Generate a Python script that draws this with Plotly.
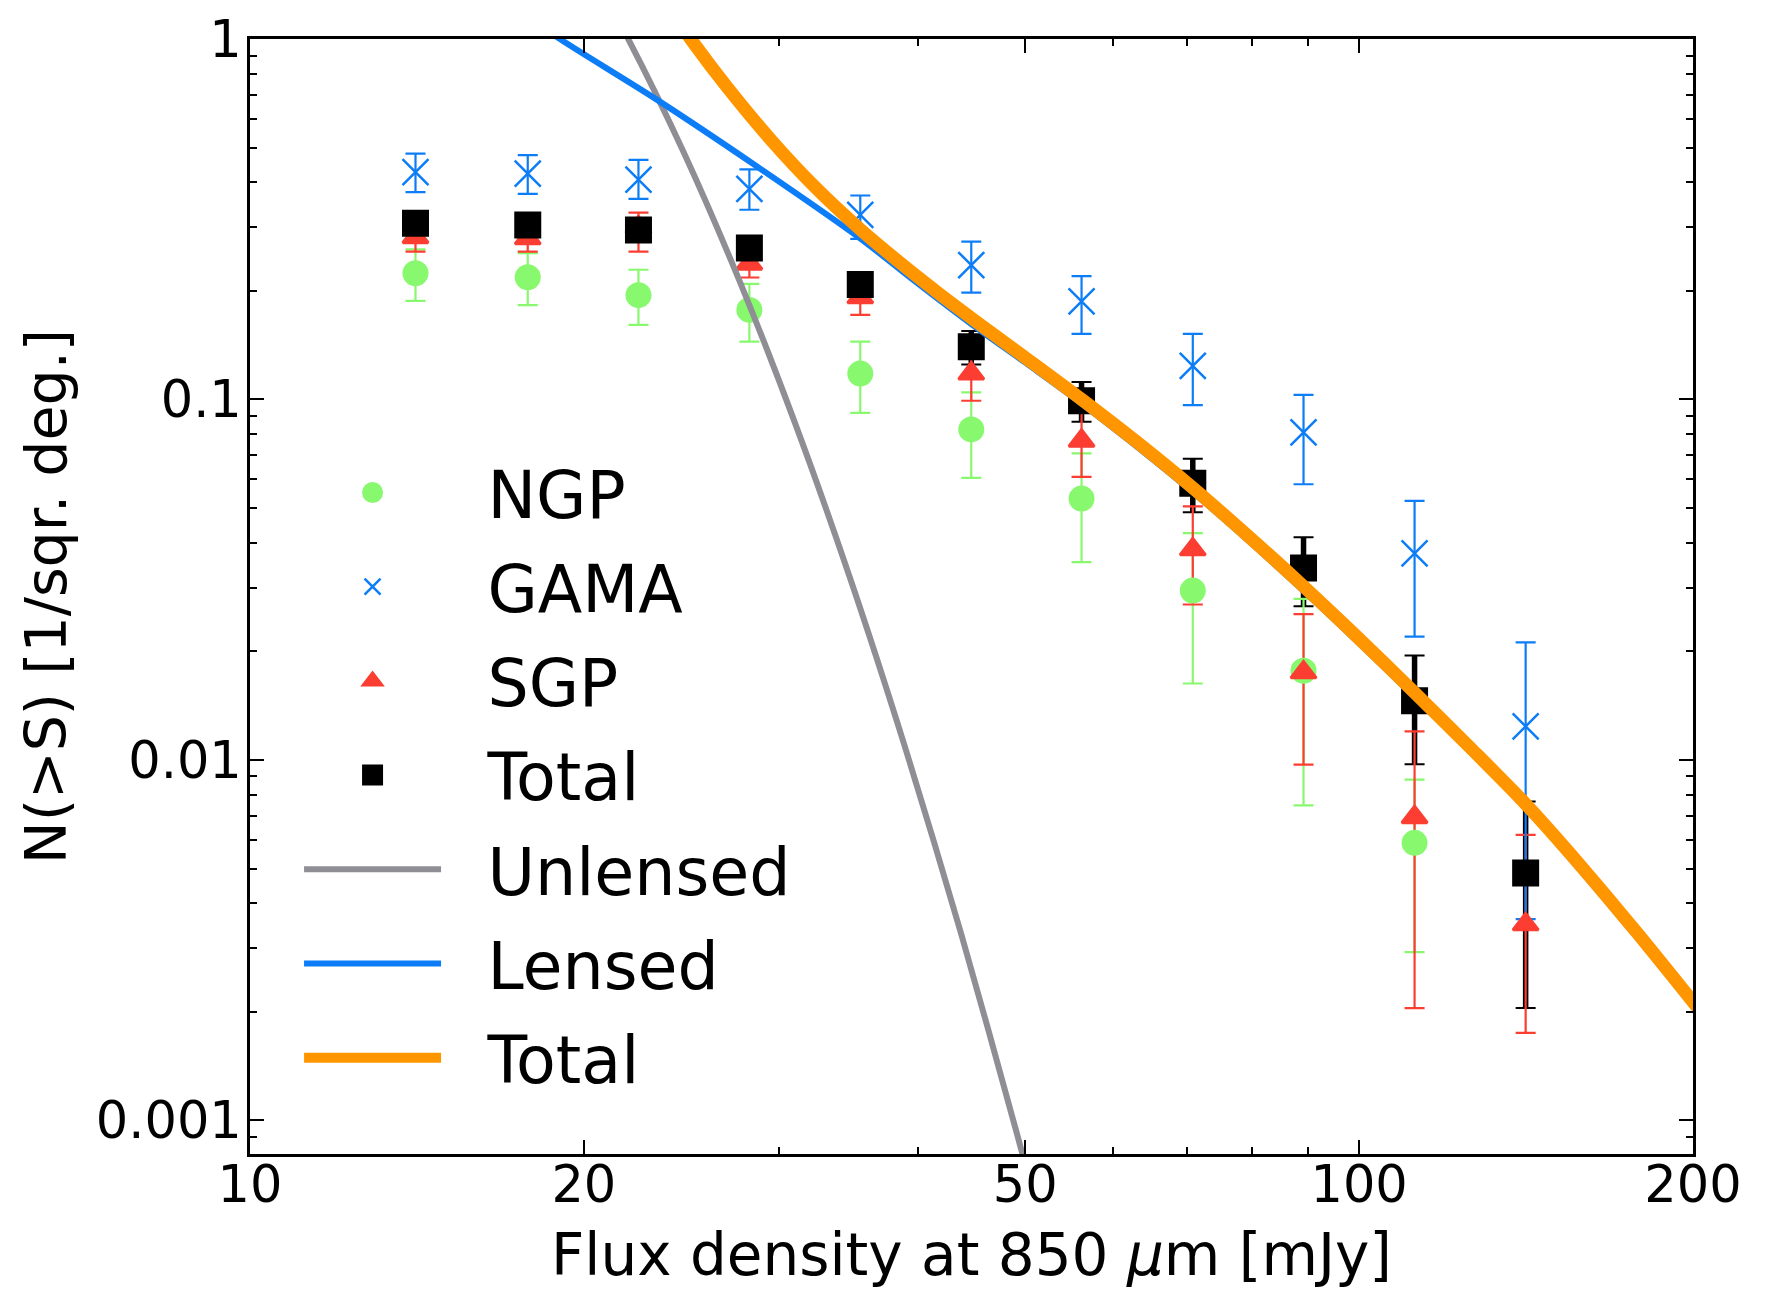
import plotly.graph_objects as go

# ---------------- data ----------------
flux = [14.1, 17.8, 22.4, 28.2, 35.5, 44.7, 56.2, 70.8, 89.1, 112.2, 141.3]

ngp_flux = [14.1, 17.8, 22.4, 28.2, 35.5, 44.7, 56.2, 70.8, 89.1, 112.2]
ngp = [0.224, 0.2184, 0.1947, 0.1772, 0.118, 0.0826, 0.0531, 0.0295, 0.01768, 0.00589]
ngp_hi = [0.261, 0.2547, 0.229, 0.2094, 0.1447, 0.1047, 0.0709, 0.0426, 0.028, 0.00882]
ngp_lo = [0.1877, 0.1826, 0.161, 0.1447, 0.0918, 0.0606, 0.0354, 0.0163, 0.00748, 0.00293]

gama = [0.427, 0.423, 0.407, 0.384, 0.325, 0.236, 0.187, 0.124, 0.081, 0.0374, 0.0124]
gama_hi = [0.481, 0.476, 0.462, 0.435, 0.368, 0.274, 0.220, 0.152, 0.103, 0.0523, 0.0212]
gama_lo = [0.376, 0.372, 0.360, 0.336, 0.279, 0.198, 0.152, 0.0965, 0.0582, 0.0220, 0.00362]

sgp = [0.282, 0.280, 0.300, 0.238, 0.192, 0.118, 0.0768, 0.0384, 0.0175, 0.00694, 0.0035]
sgp_hi = [0.305, 0.303, 0.33, 0.258, 0.21, 0.138, 0.095, 0.0505, 0.0254, 0.0120, 0.0062]
sgp_lo = [0.257, 0.257, 0.257, 0.218, 0.1716, 0.0992, 0.061, 0.027, 0.00971, 0.00205, 0.00175]

tot = [0.308, 0.305, 0.295, 0.263, 0.2085, 0.140, 0.0992, 0.0586, 0.0341, 0.0146, 0.00486]
tot_hi = [0.325, 0.322, 0.312, 0.279, 0.222, 0.155, 0.1118, 0.0685, 0.0415, 0.0195, 0.00767]
tot_lo = [0.291, 0.288, 0.279, 0.248, 0.196, 0.125, 0.0867, 0.0487, 0.0267, 0.00973, 0.00205]

# model curves
unl_x = [20.0, 21.93, 24.61, 27.61, 30.98, 34.76, 39.00, 43.76, 49.11, 51.41]
unl_y = [1.672, 1.0, 0.4844, 0.2143, 0.08654, 0.03192, 0.01074, 0.003304, 0.000927, 0.000544]

len_x = [16.6, 19.03, 23.27, 28.63, 35.48, 39.81, 44.67, 50.12, 56.23, 70.79, 89.13, 112.2, 141.3, 177.8, 208.9]
len_y = [1.334, 1.0, 0.679, 0.4436, 0.280, 0.2123, 0.1622, 0.1259, 0.0973, 0.0553, 0.02944, 0.01496, 0.00735, 0.003236, 0.001754]

mod_x = [22.39, 25.12, 26.92, 29.51, 32.36, 35.48, 38.46, 41.69, 45.71, 50.12, 56.23, 63.10,
         70.79, 79.43, 89.13, 100.0, 112.2, 125.9, 141.3, 158.5, 177.8, 199.5, 208.9]
mod_y = [1.616, 0.974, 0.736, 0.524, 0.387, 0.297, 0.241, 0.198, 0.160, 0.130, 0.100, 0.0760,
         0.0569, 0.0418, 0.0303, 0.0217, 0.01538, 0.01083, 0.00755, 0.005076, 0.003334, 0.002153, 0.001803]

x_ticks = [10, 20, 50, 100, 200]
x_minor = [30, 40, 60, 70, 80, 90]
y_ticks = [0.001, 0.01, 0.1, 1]
y_ticktext = ["0.001", "0.01", "0.1", "1"]

# ---------------- style ----------------
GREEN = "#88F96E"
BLUE = "#0D7DF7"
RED = "#FC3D32"
BLACK = "#000000"
GRAY = "#8F8E94"
ORANGE = "#FF9600"
FONT = "DejaVu Sans"
PAD = "\u00a0\u00a0"

fig = go.Figure()


def err_only(x, y, hi, lo, color, thick, width):
    return go.Scatter(
        x=x, y=y, mode="markers",
        marker=dict(size=1, color="rgba(0,0,0,0)"),
        error_y=dict(type="data", symmetric=False,
                     array=[h - v for h, v in zip(hi, y)],
                     arrayminus=[v - l for v, l in zip(y, lo)],
                     color=color, thickness=thick, width=width),
        showlegend=False, hoverinfo="skip")


# error bars first
fig.add_trace(err_only(flux, tot, tot_hi, tot_lo, BLACK, 5.5, 0))
fig.add_trace(err_only(flux, tot, tot_hi, tot_lo, BLACK, 2, 10))
fig.add_trace(err_only(ngp_flux, ngp, ngp_hi, ngp_lo, GREEN, 2.2, 10))
fig.add_trace(err_only(flux, sgp, sgp_hi, sgp_lo, RED, 2.2, 10))
fig.add_trace(err_only(flux, gama, gama_hi, gama_lo, BLUE, 2.2, 10))

# markers
fig.add_trace(go.Scatter(x=ngp_flux, y=ngp, mode="markers", name=PAD + "NGP", legendgroup="a",
                         marker=dict(symbol="circle", size=21, color=GREEN,
                                     line=dict(width=5, color=GREEN))))
fig.add_trace(go.Scatter(x=flux, y=gama, mode="markers", name=PAD + "GAMA", legendgroup="b",
                         marker=dict(symbol="x-thin", size=26, color=BLUE,
                                     line=dict(width=2.5, color=BLUE))))
fig.add_trace(go.Scatter(x=flux, y=sgp, mode="markers", name=PAD + "SGP", legendgroup="c",
                         marker=dict(symbol="triangle-up", size=22, color=RED,
                                     line=dict(width=3, color=RED))))
fig.add_trace(go.Scatter(x=flux, y=tot, mode="markers", name=PAD + "Total", legendgroup="d",
                         marker=dict(symbol="square", size=22, color=BLACK,
                                     line=dict(width=5, color=BLACK))))

# model curves
fig.add_trace(go.Scatter(x=unl_x, y=unl_y, mode="lines", name=PAD + "Unlensed", legendgroup="e",
                         line=dict(color=GRAY, width=6, shape="spline", smoothing=0.8)))
fig.add_trace(go.Scatter(x=len_x, y=len_y, mode="lines", name=PAD + "Lensed", legendgroup="f",
                         line=dict(color=BLUE, width=6, shape="spline", smoothing=0.8)))
fig.add_trace(go.Scatter(x=mod_x, y=mod_y, mode="lines", name=PAD + "Total", legendgroup="g",
                         line=dict(color=ORANGE, width=13, shape="spline", smoothing=0.8)))

y_minor = [k * 10.0 ** e for e in range(-4, 0) for k in range(2, 10)]

axis_common = dict(
    type="log", showgrid=False, zeroline=False,
    showline=True, linewidth=3, linecolor="black", mirror="allticks",
    ticks="inside", ticklen=14, tickwidth=1.5, tickcolor="black",
    tickfont=dict(family=FONT, size=51, color="black"),
)

fig.update_xaxes(
    **axis_common,
    range=[1, 2.30103],
    tickvals=x_ticks, ticktext=[str(v) for v in x_ticks],
    ticklabelstandoff=-16,
    minor=dict(tickvals=x_minor, ticks="inside", ticklen=7, tickwidth=1.5, tickcolor="black"),
    title=dict(text="Flux density at 850 <i>μ</i>m [mJy]",
               font=dict(family=FONT, size=58, color="black"), standoff=35),
)
fig.update_yaxes(
    **axis_common,
    range=[-3.093, 0],
    tickvals=y_ticks, ticktext=y_ticktext,
    ticklabelstandoff=-5,
    minor=dict(tickvals=y_minor, ticks="inside", ticklen=7, tickwidth=1.5, tickcolor="black"),
    title=dict(text="N(>S) [1/sqr. deg.]",
               font=dict(family=FONT, size=57, color="black"), standoff=11),
)

fig.update_layout(
    width=1758, height=1281,
    margin=dict(l=242, r=73, t=31, b=135, autoexpand=False),
    paper_bgcolor="white", plot_bgcolor="white",
    font=dict(family=FONT, color="black"),
    showlegend=True,
    legend=dict(
        x=0.034, y=0.637, xanchor="left", yanchor="top",
        bgcolor="rgba(0,0,0,0)", borderwidth=0,
        font=dict(family=FONT, size=65, color="black"),
        itemwidth=137, tracegroupgap=6.7,
    ),
)

fig.write_html("out.html")
